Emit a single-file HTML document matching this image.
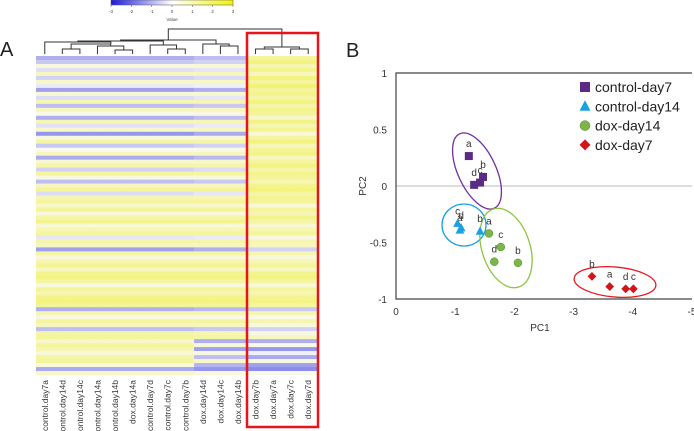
<!DOCTYPE html>
<html><head><meta charset="utf-8"><style>
html,body{margin:0;padding:0;background:#fff;width:694px;height:431px;overflow:hidden}
svg{display:block;font-family:"Liberation Sans",Arial,sans-serif}
</style></head><body>
<svg id="fig" width="694" height="431" viewBox="0 0 694 431">
<g id="panelA"></g>
<g id="panelB"></g>
</svg>
<script>
// ---------- Heatmap data ----------
const sampleNames = ["control.day7a","control.day14d","control.day14c","control.day14a","control.day14b","dox.day14a","control.day7d","control.day7c","control.day7b","dox.day14d","dox.day14c","dox.day14b","dox.day7b","dox.day7a","dox.day7c","dox.day7d"];
const sampleGroup = [0,0,0,0,0,0,0,0,0,1,1,1,2,2,2,2];
const rowsA = [-1.5,-1,0.5,-0.5,1,-0.8,0.8,-0.3,-1.8,0.6,-0.6,1.2,-1.2,1,0.3,-1.5,1.2,-0.5,0.8,-2,0.5,1.4,-1,0.2,1,-1.6,0.7,1.3,-0.8,1.5,0.4,-1.2,1,1.6,-0.6,1.2,1.5,0.8,1.6,0.5,1.4,1.8,0.6,1.2,1.5,-0.4,1.3,1,-1.8,1.4,0.6,1.2,1.7,0.9,1.8,2,1.4,0.5,1.6,1.2,1.9,2,1.6,-1.5,1.2,0.4,1.5,1,-1.2,1.4,1.6,0.8,1.5,1.2,0.6,1.4,1.6,0.5,-1.6,0.8];
const rowsB = [-1.2,-0.8,0.6,-0.4,1,-0.6,0.9,-0.2,-1.5,0.7,-0.4,1.2,-1,1,0.4,-1.2,1.2,-0.3,0.9,-1.6,0.6,1.4,-0.8,0.3,1,-1.3,0.8,1.3,-0.6,1.5,0.5,-1,1,1.6,-0.4,1.2,1.5,0.8,1.6,0.5,1.4,1.8,0.6,1.2,1.5,-0.3,1.3,1,-1.5,1.4,0.6,1.2,1.7,0.9,1.8,2,1.4,0.5,1.6,1.2,1.9,2,1.6,-1.3,1.2,0.4,1.5,1,-1,1.2,1.4,-1.5,0.6,-1.8,0.4,-1.2,0.8,-1.4,-2,0.5];
const rowsC = [1.5,2,1.2,1.8,1,2,1.5,2.2,1.6,1.8,1.4,2,1.3,1.8,1.6,0.8,1.9,1.2,1.7,0.6,1.5,2,1.1,1.6,1.9,1,1.5,2,1.3,1.8,1.6,1.2,1.8,2.1,1.4,1.7,1.6,0.6,1.5,1.2,1.8,1.4,0.7,1.2,1.6,0.4,1.2,1,-0.8,1.2,0.6,1.1,1.6,0.9,1.8,2,1.4,0.6,1.5,1.2,1.8,1.9,1.5,-1,1.2,0.3,1.2,0.5,-0.8,0.4,1,-1.5,0.3,-2,-0.2,-1.6,0.5,-1.8,-2.2,0.3];
const keyTicks = [-3,-2,-1,0,1,2,3];

// ---------- PCA data ----------
const groups = ["control-day7","control-day14","dox-day14","dox-day7"];
const pc1 = [-1.23,-1.32,-1.47,-1.42, -1.08,-1.04,-1.42,-1.10, -1.57,-1.77,-1.66,-2.06, -3.31,-3.61,-3.88,-4.01];
const pc2 = [0.265,0.01,0.08,0.03, -0.39,-0.33,-0.40,-0.37, -0.42,-0.54,-0.67,-0.68, -0.80,-0.89,-0.91,-0.91];
const ptGroup = [0,0,0,0,1,1,1,1,2,2,2,2,3,3,3,3];
const ptLabel = ["a","d","b","c","a","c","b","d","a","c","d","b","b","a","d","c"];
const xTicks = [0,-1,-2,-3,-4,-5];
const yTicks = [1,0.5,0,-0.5,-1];

const NS="http://www.w3.org/2000/svg";
function mk(parent,tag,attrs,text){const e=document.createElementNS(NS,tag);for(const k in attrs)e.setAttribute(k,attrs[k]);if(text!==undefined)e.textContent=text;parent.appendChild(e);return e;}
const A=document.getElementById('panelA'), B=document.getElementById('panelB');

function heatColor(v){
  v=Math.max(-3,Math.min(3,v));
  let r,g,b;
  if(v<0){const t=-v/3;r=250-t*150;g=250-t*150;b=250-t*20;}
  else{const t=v/3;r=250-t*10;g=250-t*10;b=250-t*180;}
  return `rgb(${r|0},${g|0},${b|0})`;
}
const hx0=36,hx1=317,hy0=56,hy1=375;
const nCol=sampleNames.length,nRow=rowsA.length;
const cw=(hx1-hx0)/nCol, rh=(hy1-hy0)/nRow;
const colX=i=>hx0+i*cw, colC=i=>hx0+(i+0.5)*cw;
const rowY=j=>hy0+j*rh;
const groupRows=[rowsA,rowsB,rowsC];
for(let j=0;j<nRow;j++){
  for(let i=0;i<nCol;i++){
    const c=mk(A,'rect',{x:colX(i).toFixed(2),y:rowY(j).toFixed(2),width:(cw+0.3).toFixed(2),height:(rh+0.3).toFixed(2),fill:heatColor(groupRows[sampleGroup[i]][j])});
    
    
  }
}
sampleNames.forEach((n,i)=>{
  const t=mk(A,'text',{x:0,y:0,transform:`translate(${(colC(i)+3).toFixed(1)},380) rotate(-90)`,'text-anchor':'end','font-size':'8.5',fill:'#333'},n);
  
  
});
const dg=mk(A,'g',{stroke:'#333','stroke-width':'1',fill:'none'});


function link(x1,y1,x2,y2,h){mk(dg,'path',{d:`M${x1},${y1}V${h}H${x2}V${y2}`});}
const leafY=54;
link(colC(1),leafY,colC(2),leafY,49); const c12=(colC(1)+colC(2))/2;
link(colC(4),leafY,colC(5),leafY,50); const c45=(colC(4)+colC(5))/2;
link(colC(3),leafY,c45,50,46); const c345=(colC(3)+c45)/2;
link(c12,49,c345,46,44); const cL1=(c12+c345)/2;
link(colC(0),leafY,cL1+20,44,42); const cL2=(colC(0)+cL1+20)/2;
link(colC(7),leafY,colC(8),leafY,49); const c78=(colC(7)+colC(8))/2;
link(colC(6),leafY,c78,49,45); const c678=(colC(6)+c78)/2;
link(cL2,42,c678,45,41); const cL3=(cL2+c678)/2;
link(colC(10),leafY,colC(11),leafY,46); const cAB=(colC(10)+colC(11))/2;
link(colC(9),leafY,cAB,46,44); const c9=(colC(9)+cAB)/2;
link(cL3,41,c9,44,40); const cL=(cL3+c9)/2;
link(colC(12),leafY,colC(13),leafY,49); const r1=(colC(12)+colC(13))/2;
link(colC(14),leafY,colC(15),leafY,49); const r2=(colC(14)+colC(15))/2;
link(r1,49,r2,49,47); const cR=(r1+r2)/2;
link(cL,40,cR,47,29);
const rb=mk(A,'rect',{x:247,y:33,width:71,height:394,fill:'none',stroke:'#e8141b','stroke-width':'2.5'});


const grad=mk(A,'defs',{});
const lg=mk(grad,'linearGradient',{id:'kg',x1:0,x2:1,y1:0,y2:0});
[[0,'#1a1ae6'],[0.5,'#ffffff'],[1,'#f2f20a']].forEach(s=>mk(lg,'stop',{offset:s[0],'stop-color':s[1]}));
const key=mk(A,'g',{});


const kx0=111,kx1=233;
mk(key,'rect',{x:kx0,y:0,width:kx1-kx0,height:5,fill:'url(#kg)',stroke:'#555','stroke-width':'0.5'});
keyTicks.forEach(v=>{const x=kx0+(v+3)/6*(kx1-kx0);mk(key,'line',{x1:x,x2:x,y1:5,y2:7,stroke:'#555','stroke-width':'0.5'});mk(key,'text',{x:x,y:13,'text-anchor':'middle','font-size':'4.5',fill:'#444'},String(v));});
mk(key,'text',{x:(kx0+kx1)/2,y:21,'text-anchor':'middle','font-size':'4.5',fill:'#444'},'Value');
const la=mk(A,'text',{x:0,y:56,'font-size':'20',fill:'#222'},'A');



// ---------- PCA ----------
const px0=396,px1=692,py0=73,py1=299;
const xs=v=>px0+(0-v)/5*(px1-px0);
const ys=v=>py0+(1-v)/2*(py1-py0);
const lb=mk(B,'text',{x:346,y:57,'font-size':'20',fill:'#222'},'B');


mk(B,'line',{x1:px0,x2:px1,y1:ys(0),y2:ys(0),stroke:'#bbb','stroke-width':'1'});
const ax=mk(B,'path',{d:`M${px1},${py0}H${px0}V${py1}H${px1}`,fill:'none',stroke:'#444','stroke-width':'1.2'});


yTicks.forEach(v=>{const t=mk(B,'text',{x:387,y:ys(v)+4,'text-anchor':'end','font-size':'10',fill:'#333'},String(v));});
xTicks.forEach(v=>{const t=mk(B,'text',{x:xs(v),y:315,'text-anchor':'middle','font-size':'10',fill:'#333'},String(v));});
const xt=mk(B,'text',{x:540,y:331,'text-anchor':'middle','font-size':'10',fill:'#333'},'PC1');


const yt=mk(B,'text',{x:0,y:0,transform:`translate(366,${ys(0)}) rotate(-90)`,'text-anchor':'middle','font-size':'10',fill:'#333'},'PC2');


const ells=[[477,171,19,41,-25,'#7030a0'],[464,225,22,21,0,'#1ba1e2'],[506,248,24,41,-18,'#8cc63e'],[615,282,41,15,5,'#e51c23']];
ells.forEach(e=>{const el=mk(B,'ellipse',{cx:e[0],cy:e[1],rx:e[2],ry:e[3],transform:`rotate(${e[4]} ${e[0]} ${e[1]})`,fill:'none',stroke:e[5],'stroke-width':'1.3'});});
const gcol=['#5b2a86','#1ba1e2','#7ab648','#d4141b'];
function marker(g,x,y,k,s){
  if(k===0)return mk(g,'rect',{x:x-s,y:y-s,width:2*s,height:2*s,fill:gcol[0]});
  if(k===1)return mk(g,'path',{d:`M${x},${y-s*1.2}L${x+s*1.1},${y+s*0.9}L${x-s*1.1},${y+s*0.9}Z`,fill:gcol[1]});
  if(k===2)return mk(g,'circle',{cx:x,cy:y,r:s,fill:gcol[2],stroke:'#5a8a2e','stroke-width':'0.5'});
  return mk(g,'path',{d:`M${x},${y-s*1.1}L${x+s*1.1},${y}L${x},${y+s*1.1}L${x-s*1.1},${y}Z`,fill:gcol[3]});
}
pc1.forEach((v,i)=>{
  const x=xs(v),y=ys(pc2[i]);
  const m=marker(B,x,y,ptGroup[i],4);
  
  
  const t=mk(B,'text',{x:x,y:y-9,'text-anchor':'middle','font-size':'10',fill:'#333'},ptLabel[i]);
  
  
});
groups.forEach((g,k)=>{
  const y=87+k*19.3;
  const m=marker(B,585,y,k,5);
  
  
  const t=mk(B,'text',{x:595,y:y+5,'font-size':'14',fill:'#222'},g);
  
  
});
</script>
</body></html>
